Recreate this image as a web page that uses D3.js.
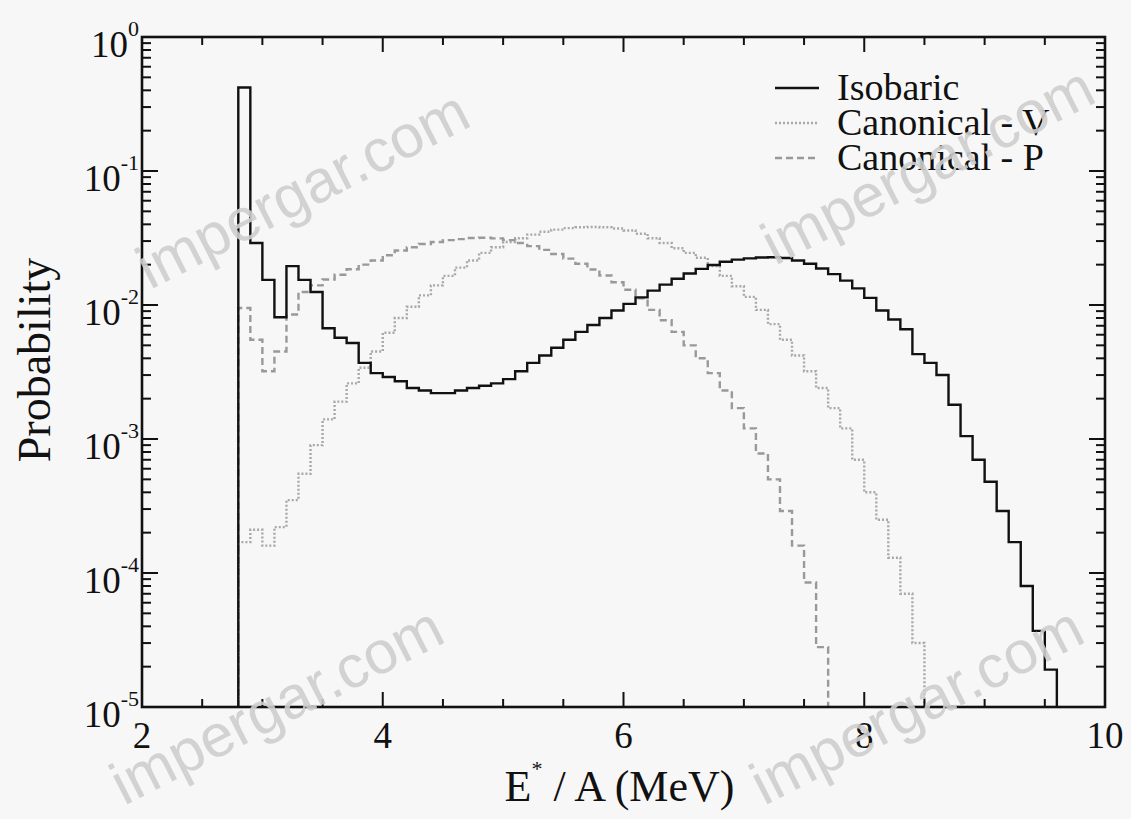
<!DOCTYPE html>
<html>
<head>
<meta charset="utf-8">
<script src="https://cdn.jsdelivr.net/npm/d3@7"></script>
<style>
  body { margin: 0; background: #f7f7f7; }
  svg { display: block; }
  text { font-family: "Liberation Serif", "Times New Roman", serif; fill: #111; }
  text.wm { font-family: "Liberation Sans", Arial, sans-serif; fill: #cdcdcd; fill-opacity: 0.9; }
</style>
</head>
<body>
<svg id="chart" width="1131" height="819"></svg>
<script>
// histogram bins: left edge of first bin and bin width (MeV)
const binStart = 2.8;
const binWidth = 0.1;

// probability per bin
const isobaric = [
  0.42, 0.029,
  0.0154, 0.0081, 0.0195, 0.0154, 0.0125, 0.0067, 0.0057, 0.0052, 0.0037, 0.0031,
  0.0029, 0.0027, 0.0024, 0.0023, 0.0022, 0.0022, 0.0023, 0.0024, 0.0025, 0.0026,
  0.0028, 0.0032, 0.0037, 0.0042, 0.0048, 0.0055, 0.0063, 0.0071, 0.0080, 0.0091,
  0.0102, 0.0114, 0.0128, 0.0142, 0.0157, 0.0172, 0.0186, 0.0199, 0.0210, 0.0218,
  0.0223, 0.0226, 0.0227, 0.0224, 0.0215, 0.0203, 0.0187, 0.0170, 0.0152, 0.0133,
  0.0113, 0.0091, 0.0078, 0.0066, 0.0043, 0.0037, 0.0030, 0.0018, 0.00105, 0.0007,
  0.00048, 0.00029, 0.00017, 0.00008, 0.000037, 0.000019
];
const canonicalV = [
  0.00017, 0.00021,
  0.00016, 0.00022, 0.00035, 0.00055, 0.0009, 0.0014, 0.0019, 0.0026, 0.0034, 0.0045,
  0.0062, 0.0080, 0.0097, 0.0118, 0.0140, 0.0165, 0.0190, 0.0215, 0.0245, 0.0270,
  0.0295, 0.0315, 0.0335, 0.0352, 0.0365, 0.0375, 0.0380, 0.0382, 0.0380, 0.0372,
  0.0360, 0.0340, 0.0315, 0.0290, 0.0265, 0.0245, 0.0225, 0.0195, 0.0165, 0.0138,
  0.0115, 0.0092, 0.0072, 0.0055, 0.0042, 0.0032, 0.0024, 0.0017, 0.0012, 0.0007,
  0.00040, 0.00025, 0.00013, 0.00007, 0.00003
];
const canonicalP = [
  0.0095, 0.0055,
  0.0032, 0.0045, 0.0085, 0.0125, 0.0140, 0.0155, 0.0168, 0.0185, 0.0200, 0.0215,
  0.0235, 0.0255, 0.0270, 0.0285, 0.0295, 0.0305, 0.0310, 0.0316, 0.0318, 0.0314,
  0.0305, 0.0290, 0.0275, 0.0258, 0.0240, 0.0222, 0.0203, 0.0184, 0.0166, 0.0148,
  0.0130, 0.0112, 0.0092, 0.0077, 0.0063, 0.0050, 0.0040, 0.0031, 0.0023, 0.0017,
  0.0012, 0.00078, 0.00050, 0.00029, 0.00016, 0.000085, 0.000028
];

const seriesNames = ["Isobaric", "Canonical - V", "Canonical - P"];
const xTicks = [2, 4, 6, 8, 10];
const yExponents = [0, -1, -2, -3, -4, -5];

const svg = d3.select("#chart");
const margin = {left: 142, right: 26, top: 37, bottom: 112};
const width = +svg.attr("width");
const height = +svg.attr("height");
const x0 = margin.left, x1 = width - margin.right;
const y0 = height - margin.bottom, y1 = margin.top;

const x = d3.scaleLinear().domain([2, 10]).range([x0, x1]);
const y = d3.scaleLog().domain([1e-5, 1]).range([y0, y1]);

// turn bin values into a step outline that starts and ends on the floor
function steps(values) {
  const pts = [[binStart, 1e-5]];
  values.forEach((v, i) => {
    const a = binStart + i * binWidth;
    pts.push([a, v], [a + binWidth, v]);
  });
  pts.push([binStart + values.length * binWidth, 1e-5]);
  return pts;
}

const line = d3.line().x(d => x(d[0])).y(d => y(Math.max(d[1], 1e-5)));

const styles = [
  {stroke: "#111", width: 2.4, dash: null},
  {stroke: "#a8a8a8", width: 2.4, dash: "2,2"},
  {stroke: "#999", width: 2.4, dash: "7,4"}
];

const g = svg.append("g");
const data = [isobaric, canonicalV, canonicalP];

// grey ones first so the black histogram stays on top
[2, 1, 0].forEach(k => {
  g.append("path")
    .attr("d", line(steps(data[k])))
    .attr("fill", "none")
    .attr("stroke", styles[k].stroke)
    .attr("stroke-width", styles[k].width)
    .attr("stroke-dasharray", styles[k].dash)
    .attr("stroke-linejoin", "miter");
});

// ticks on all four sides, pointing inward
const xMinor = d3.range(2, 10.01, 0.5).filter(v => xTicks.indexOf(v) < 0);
const yMinor = [];
yExponents.slice(0, -1).forEach(e => {
  for (let m = 2; m <= 9; m++) yMinor.push(m * Math.pow(10, e - 1));
});
const yMajor = yExponents.map(e => Math.pow(10, e));

const ticks = svg.append("g").attr("stroke", "#111").attr("stroke-width", 2);
xTicks.concat(xMinor).forEach(v => {
  const len = xTicks.indexOf(v) >= 0 ? 15 : 8;
  ticks.append("line").attr("x1", x(v)).attr("x2", x(v)).attr("y1", y0).attr("y2", y0 - len);
  ticks.append("line").attr("x1", x(v)).attr("x2", x(v)).attr("y1", y1).attr("y2", y1 + len);
});
yMajor.concat(yMinor).forEach(v => {
  const len = yMajor.indexOf(v) >= 0 ? 16 : 9;
  ticks.append("line").attr("x1", x0).attr("x2", x0 + len).attr("y1", y(v)).attr("y2", y(v));
  ticks.append("line").attr("x1", x1).attr("x2", x1 - len).attr("y1", y(v)).attr("y2", y(v));
});

svg.append("rect")
  .attr("x", x0).attr("y", y1)
  .attr("width", x1 - x0).attr("height", y0 - y1)
  .attr("fill", "none").attr("stroke", "#111").attr("stroke-width", 2.6);

// tick labels
svg.append("g").selectAll("text").data(xTicks).join("text")
  .attr("x", d => x(d)).attr("y", y0 + 41)
  .attr("text-anchor", "middle")
  .attr("font-size", 37)
  .text(d => d);

const yl = svg.append("g").selectAll("text").data(yExponents).join("text")
  .attr("x", x0 - 3).attr("y", d => y(Math.pow(10, d)) + 20)
  .attr("text-anchor", "end")
  .attr("font-size", 37);
yl.append("tspan").text("10");
yl.append("tspan").attr("font-size", 22).attr("dy", -21).text(d => d === 0 ? "0" : "-" + (-d));

// axis titles
svg.append("text")
  .attr("transform", "translate(50,360) rotate(-90)")
  .attr("text-anchor", "middle")
  .attr("font-size", 46)
  .text("Probability");

const xt = svg.append("text")
  .attr("x", (x0 + x1) / 2 - 4).attr("y", 801)
  .attr("text-anchor", "middle")
  .attr("font-size", 44);
xt.append("tspan").text("E");
xt.append("tspan").attr("font-size", 22).attr("dy", -25).text("*");
xt.append("tspan").attr("dy", 25).text(" / A  (MeV)");

// legend
const leg = svg.append("g").attr("transform", "translate(775,88)");
seriesNames.forEach((name, i) => {
  const row = leg.append("g").attr("transform", `translate(0,${i * 35})`);
  row.append("line")
    .attr("x1", 0).attr("x2", 44)
    .attr("stroke", styles[i].stroke)
    .attr("stroke-width", styles[i].width)
    .attr("stroke-dasharray", styles[i].dash);
  row.append("text")
    .attr("x", 62).attr("y", 12)
    .attr("font-size", 38)
    .text(name);
});

// watermark
const marks = [[150, 290], [775, 266], [124, 806], [764, 806]];
svg.append("g").selectAll("text").data(marks).join("text")
  .attr("class", "wm")
  .attr("transform", d => `translate(${d[0]},${d[1]}) rotate(-27)`)
  .attr("font-size", 60)
  .text("impergar.com");
</script>
</body>
</html>
